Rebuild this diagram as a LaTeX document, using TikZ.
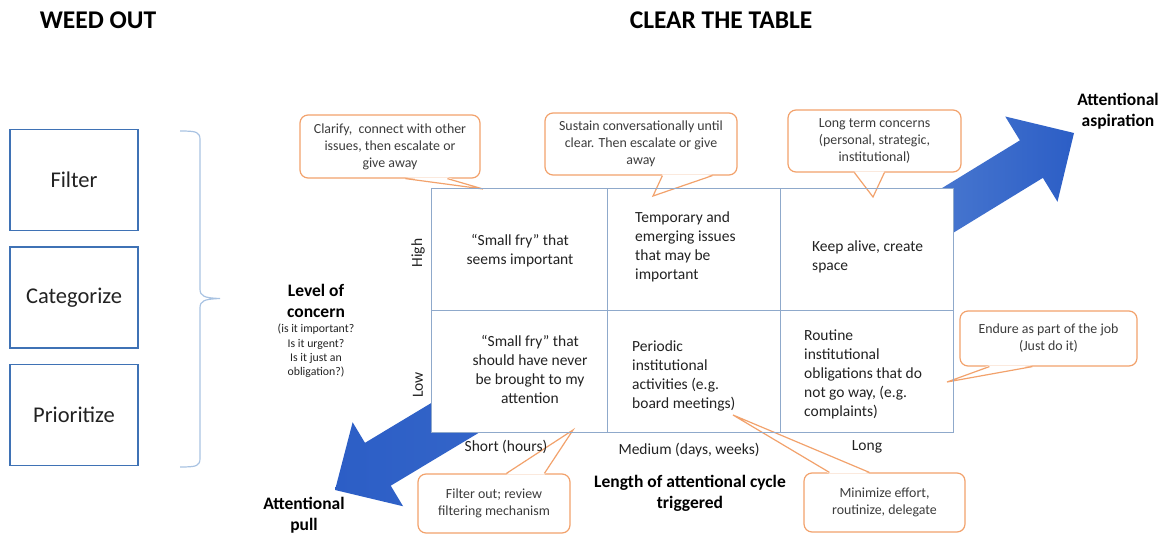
\documentclass[tikz,border=0pt]{standalone}
\usepackage{fontspec}
\setmainfont{Carlito}
\usetikzlibrary{calc}
\definecolor{boxblue}{HTML}{3F72B5}
\definecolor{gridc}{HTML}{8FA9CB}
\definecolor{bracec}{HTML}{A9C3E2}
\definecolor{callc}{HTML}{F2A26C}
\definecolor{txtc}{HTML}{222222}
\definecolor{calltxtc}{HTML}{3C3C3C}
\definecolor{arrdark}{HTML}{2C5EC6}
\definecolor{arrlight}{HTML}{5B88D5}

% pointer of a callout: base points #1 and #2, tip #3, #4 = small shift into the box
\newcommand\callptr[4]{%
  \fill[white] ($(#1)+(#4)$) -- (#3) -- ($(#2)+(#4)$) -- cycle;
  \draw[ptrline] (#1) -- (#3) -- (#2);}

\begin{document}
\begin{tikzpicture}[x=1pt,y=-1pt,
  head/.style={font=\bfseries\fontsize{25.5}{30}\selectfont, text=black, inner sep=0},
  axhead/.style={font=\bfseries\fontsize{17.5}{21}\selectfont, text=black, inner sep=0, align=center},
  smallq/.style={font=\fontsize{11.8}{14.3}\selectfont, text=txtc, inner sep=0, align=center},
  stepbox/.style={draw=boxblue, line width=1.3pt, minimum width=128pt, minimum height=101pt,
    inner sep=0, font=\fontsize{22.5}{27}\selectfont, text=txtc},
  celltxt/.style={font=\fontsize{15.5}{19}\selectfont, text=txtc, inner sep=0},
  gridfill/.style={fill=white, minimum width=521pt, minimum height=243pt, inner sep=0},
  gridline/.style={draw=gridc, line width=1.3pt},
  callbox/.style={draw=callc, line width=1.2pt, rounded corners=8pt, fill=white, inner sep=0,
    align=center, font=\fontsize{13.9}{17}\selectfont, text=calltxtc},
  ptrline/.style={draw=callc, line width=1.2pt, line join=miter},
  bracepath/.style={draw=bracec, line width=1.2pt},
]
\useasboundingbox (0,0) rectangle (1167,535);

% headings
\node[head] (weed) at (98,20) {WEED OUT};
\node[head] (clear) at (721,20) {CLEAR THE TABLE};

% weed-out steps
\node[stepbox] (filter) at (74,180) {Filter};
\node[stepbox] (categ) at (74,297.5) {Categorize};
\node[stepbox] (prior) at (74,415) {Prioritize};

% curly brace grouping the steps
\path[bracepath] (180,131) .. controls (197,131) and (200,132) .. (200,140)
  -- (200,289) .. controls (200,296) and (204,298) .. (220,298.5)
  .. controls (204,299) and (200,301) .. (200,308)
  -- (200,458) .. controls (200,466) and (197,467) .. (180,467);

% big arrows (drawn first, the matrix covers their tails)
\begin{scope}[shift={(1074,133)}, rotate=31.5]
  \path[left color=arrlight, right color=arrdark]
    (0,0) -- (-50,-50) -- (-50,-22) -- (-260,-22) -- (-260,22) -- (-50,22) -- (-50,50) -- cycle;
\end{scope}
\begin{scope}[shift={(335,490)}, rotate=211]
  \path[left color=arrdark, right color=arrdark!75!arrlight]
    (0,0) -- (-50,-49) -- (-50,-25) -- (-260,-25) -- (-260,25) -- (-50,25) -- (-50,49) -- cycle;
\end{scope}

% matrix background
\node[gridfill] (grid) at (692.5,310.5) {};

% callouts
\node[callbox, minimum width=180pt, minimum height=63pt] (c1) at (390,146.5)
  {Clarify,\ \ connect with other\\issues, then escalate or\\give away};
\node[callbox, minimum width=192pt, minimum height=62pt] (c2) at (641,144)
  {Sustain conversationally until\\clear. Then escalate or give\\away};
\node[callbox, minimum width=173pt, minimum height=62pt] (c3) at (874.5,141)
  {Long term concerns\\(personal, strategic,\\institutional)};
\node[callbox, minimum width=177pt, minimum height=55pt] (c4) at (1048.5,338.5)
  {Endure as part of the job\\(Just do it)};
\node[callbox, minimum width=152pt, minimum height=59pt] (c5) at (494,503.5)
  {Filter out; review\\filtering mechanism};
\node[callbox, minimum width=161pt, minimum height=59pt] (c6) at (884.5,502.5)
  {Minimize effort,\\routinize, delegate};

\coordinate (p1) at (483,189);
\coordinate (p2) at (653,196);
\coordinate (p3) at (873,197);
\coordinate (p4) at (947,382);
\coordinate (p5) at (573,430);
\coordinate (p6) at (733,415);

\path (c1.south west) ++(106,0) coordinate (c1a) ++(42,0) coordinate (c1b);
\path (c2.south west) ++(118,0) coordinate (c2a) ++(50,0) coordinate (c2b);
\path (c3.south west) ++(67,0) coordinate (c3a) ++(30,0) coordinate (c3b);
\path (c4.south west) ++(30,0) coordinate (c4a) ++(43,0) coordinate (c4b);
\path (c5.north west) ++(89,0) coordinate (c5a) ++(38,0) coordinate (c5b);
\path (c6.north west) ++(26,0) coordinate (c6a) ++(40,0) coordinate (c6b);

\callptr{c1a}{c1b}{p1}{0,-1.3}
\callptr{c2a}{c2b}{p2}{0,-1.3}
\callptr{c3a}{c3b}{p3}{0,-1.3}
\callptr{c4a}{c4b}{p4}{0,-1.3}
\callptr{c5a}{c5b}{p5}{0,1.3}
\callptr{c6a}{c6b}{p6}{0,1.3}

% matrix lines
\draw[gridline] (grid.north west) rectangle (grid.south east);
\draw[gridline] ($(grid.north west)+(176,0)$) -- ($(grid.south west)+(176,0)$);
\draw[gridline] ($(grid.north west)+(349,0)$) -- ($(grid.south west)+(349,0)$);
\draw[gridline] ($(grid.north west)+(0,122)$) -- ($(grid.north east)+(0,122)$);

% cell texts
\node[celltxt, align=center] (t11) at (520,251) {“Small fry” that\\seems important};
\node[celltxt, align=left, anchor=west] (t12) at (635,247) {Temporary and\\emerging issues\\that may be\\important};
\node[celltxt, align=left, anchor=west] (t13) at (812,256.5) {Keep alive, create\\space};
\node[celltxt, align=center] (t21) at (530,369) {“Small fry” that\\should have never\\be brought to my\\attention};
\node[celltxt, align=left, anchor=west] (t22) at (632,375.5) {Periodic\\institutional\\activities (e.g.\\board meetings)};
\node[celltxt, align=left, anchor=west] (t23) at (804,374.5) {Routine\\institutional\\obligations that do\\not go way, (e.g.\\complaints)};

% axis labels
\node[celltxt, rotate=90] (high) at (418,253) {High};
\node[celltxt, rotate=90] (low) at (418,385) {Low};
\node[celltxt] (short) at (506,447) {Short (hours)};
\node[celltxt] (medium) at (689,450) {Medium (days, weeks)};
\node[celltxt] (long) at (867,447) {Long};

\node[axhead] (concern) at (316,301) {Level of\\concern};
\node[smallq] (concernq) at (316,351) {(is it important?\\Is it urgent?\\Is it just an\\obligation?)};
\node[axhead] (cycle) at (690,493) {Length of attentional cycle\\triggered};
\node[axhead] (aspir) at (1118,111) {Attentional\\aspiration};
\node[axhead] (pull) at (304,515.5) {Attentional\\pull};
\end{tikzpicture}
\end{document}
